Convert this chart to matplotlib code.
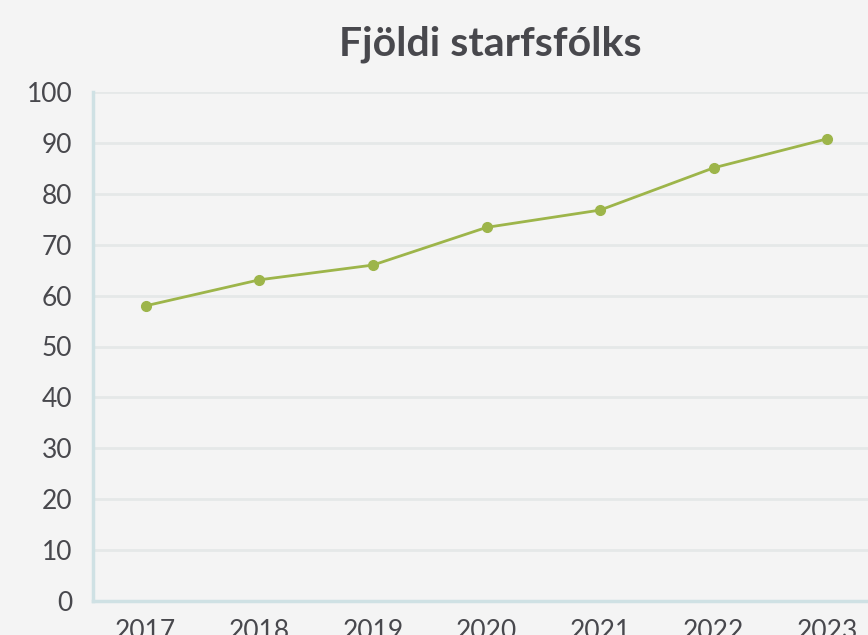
import matplotlib.pyplot as plt

# gögn lesin af myndinni
years = ['2017', '2018', '2019', '2020', '2021', '2022', '2023']
staff = [58.0, 63.1, 66.0, 73.4, 76.8, 85.1, 90.8]
y_ticks = [0, 10, 20, 30, 40, 50, 60, 70, 80, 90, 100]

bg = '#f4f4f4'
text_col = '#48484d'
line_col = '#9db54a'

plt.rcParams['font.family'] = ['Lato', 'DejaVu Sans']

fig = plt.figure(figsize=(8.68, 6.35), dpi=100, facecolor=bg)
# ásinn nær út fyrir hægri brún eins og á fyrirmyndinni
ax = fig.add_axes([93 / 868, 1 - 601 / 635, 791 / 868, 509 / 635])
ax.set_facecolor(bg)

x = list(range(len(years)))
ax.plot(x, staff, color=line_col, lw=2, marker='o', ms=7, zorder=3)

ax.set_xlim(-0.465, len(years) - 0.5)
ax.set_ylim(0, 100)
ax.set_xticks(x)
ax.set_xticklabels(years)
ax.set_yticks(y_ticks)

ax.grid(axis='y', color='#e5e8e8', lw=2)
ax.set_axisbelow(True)
for s in ['top', 'right']:
    ax.spines[s].set_visible(False)
for s in ['left', 'bottom']:
    ax.spines[s].set_color('#cfe1e4')
    ax.spines[s].set_linewidth(2.5)

ax.tick_params(length=0, labelsize=19, colors=text_col)
ax.tick_params(axis='y', pad=15)
ax.tick_params(axis='x', pad=13)

fig.text(490 / 868, 1 - 44 / 635, 'Fjöldi starfsfólks', ha='center', va='center',
         fontsize=29.5, fontweight='bold', color=text_col)

fig.savefig('out.png', dpi=100, facecolor=bg)
